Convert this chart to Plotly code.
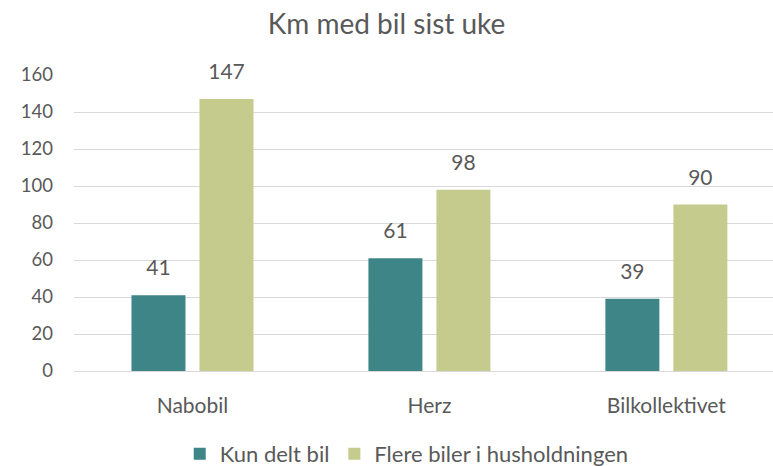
import plotly.graph_objects as go

categories = ["Nabobil", "Herz", "Bilkollektivet"]
kun_delt = [41, 61, 39]
flere_biler = [147, 98, 90]
series_names = ["Kun delt bil", "Flere biler i husholdningen"]
tick_vals = [0, 20, 40, 60, 80, 100, 120, 140, 160]

FONT = "Lato, Open Sans, sans-serif"
TXT = "#595959"
COLORS = ["#3E8587", "#C5CB8C"]

fig = go.Figure()
for name, vals, col in zip(series_names, [kun_delt, flere_biler], COLORS):
    fig.add_trace(go.Bar(x=categories, y=vals, name=name, marker=dict(color=col, line=dict(width=0))))
# value labels, placed by the library with grouped scatter offsets
for name, vals in zip(series_names, [kun_delt, flere_biler]):
    fig.add_trace(go.Scatter(x=categories, y=vals, mode="markers+text", text=[str(v) for v in vals],
                             textposition="top center", showlegend=False, hoverinfo="skip",
                             marker=dict(size=22, opacity=0),
                             textfont=dict(size=21, color=TXT, family=FONT), cliponaxis=False))

fig.update_layout(
    width=773, height=466,
    paper_bgcolor="white", plot_bgcolor="white",
    margin=dict(l=74, r=0, t=75, b=95),
    title=dict(text="Km med bil sist uke", x=0.5, xanchor="center", y=0.948, yanchor="middle",
               font=dict(size=28, color=TXT, family=FONT)),
    barmode="group", bargap=0.426, bargroupgap=0.206,
    scattermode="group", scattergap=0.426,
    font=dict(family=FONT, color=TXT, size=18),
    legend=dict(orientation="h", x=0.476, xanchor="center", yref="container", y=0.026, yanchor="middle",
                font=dict(size=22, color=TXT, family=FONT), itemwidth=30,
                traceorder="normal"),
    xaxis=dict(showline=True, linecolor="#D9D9D9", linewidth=1, ticks="", automargin=False,
               range=[-0.5, 2.45], ticklabelstandoff=16,
               tickfont=dict(size=21, color=TXT, family=FONT)),
    yaxis=dict(range=[0, 160], tickvals=tick_vals, showgrid=True, gridcolor="#D9D9D9",
               gridwidth=1, zeroline=False, ticks="", ticklabelstandoff=20, automargin=False,
               tickfont=dict(size=18.5, color=TXT, family=FONT)),
)

fig.write_html("out.html", config={"displayModeBar": False},
               post_script="document.body.style.margin='0';")
